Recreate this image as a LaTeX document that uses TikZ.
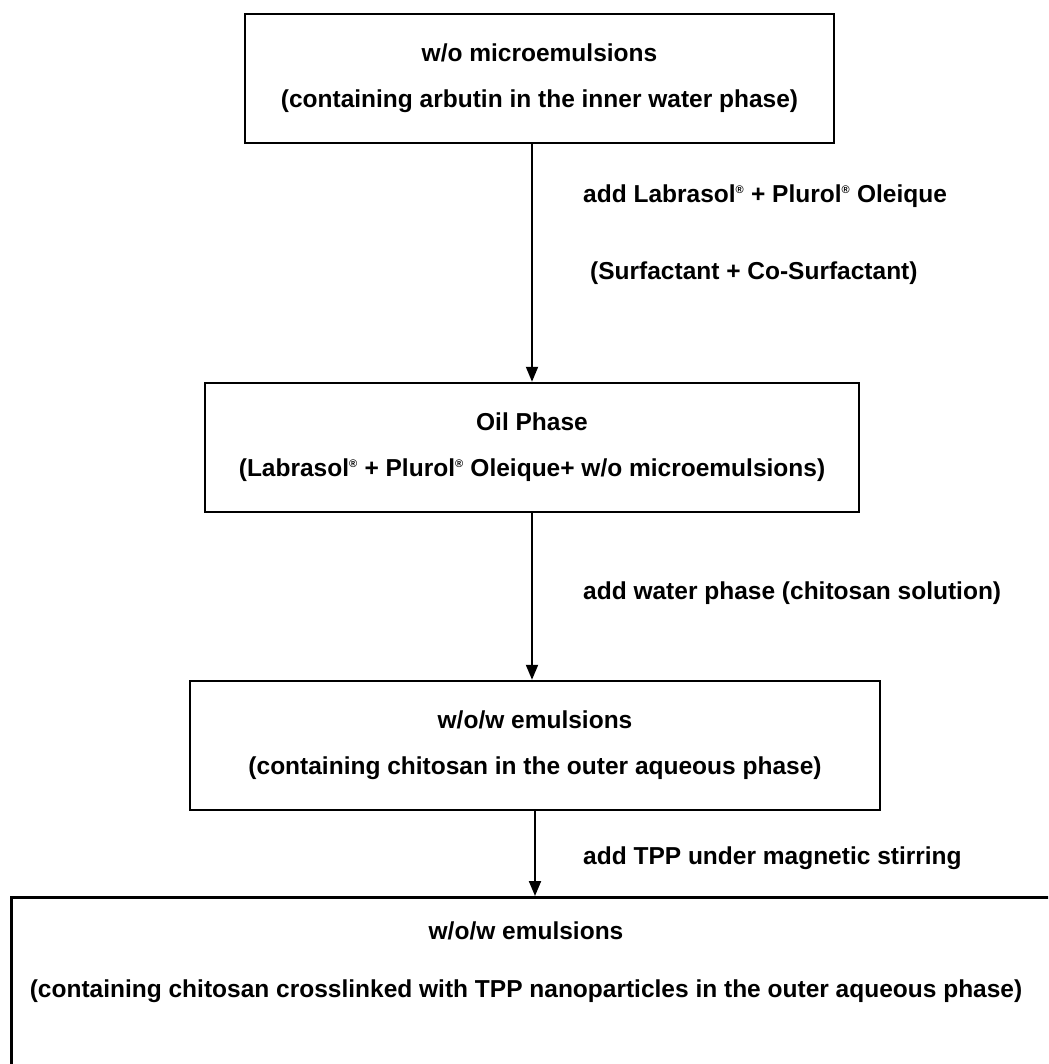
\documentclass[tikz,border=0pt]{standalone}
\usepackage{fontspec}
\setmainfont{Liberation Sans}
\usetikzlibrary{arrows.meta}
\tikzset{
    stage/.style={draw, line width=2.5pt, inner sep=0pt, align=center, font=\bfseries\fontsize{24.5}{46}\selectfont},
    note/.style={anchor=west, inner sep=0pt, font=\bfseries\fontsize{24.5}{29}\selectfont},
    flow/.style={line width=2pt, -{Triangle[length=15pt,width=12pt]}}
}
\newcommand{\reg}{\textsuperscript{\fontsize{11}{11}\selectfont\textregistered}}
\begin{document}
\begin{tikzpicture}[x=1pt,y=-1pt]
    \useasboundingbox (0,0) rectangle (1048,1064);
    \clip (0,0) rectangle (1048,1064);
    \node[stage, minimum width=589pt, minimum height=129pt] (micro) at (539.5,78.5) {w/o microemulsions\\(containing arbutin in the inner water phase)};
    \node[stage, minimum width=654pt, minimum height=129pt] (oil) at (532,447.5) {Oil Phase\\(Labrasol\reg{} + Plurol\reg{} Oleique+ w/o microemulsions)};
    \node[stage, minimum width=690pt, minimum height=129pt] (wow) at (535,745.5) {w/o/w emulsions\\(containing chitosan in the outer aqueous phase)};
    \node[stage, anchor=north west, minimum width=1060pt, minimum height=200pt] (final) at (10,896) {};
    \node[inner sep=0pt, align=center, font=\bfseries\fontsize{24.5}{58}\selectfont] (finaltext) at (526,962) {w/o/w emulsions\\(containing chitosan crosslinked with TPP nanoparticles in the outer aqueous phase)};
    \draw[flow] (micro.south -| oil.north) -- (oil.north);
    \draw[flow] (oil.south) -- (oil.south |- wow.north);
    \draw[flow] (wow.south) -- (wow.south |- final.north);
    \node[note] (surf) at (583,196) {add Labrasol\reg{} + Plurol\reg{} Oleique};
    \node[note] (cosurf) at (590,273) {(Surfactant + Co-Surfactant)};
    \node[note] (water) at (583,593) {add water phase (chitosan solution)};
    \node[note] (tpp) at (583,858) {add TPP under magnetic stirring};
\end{tikzpicture}
\end{document}
